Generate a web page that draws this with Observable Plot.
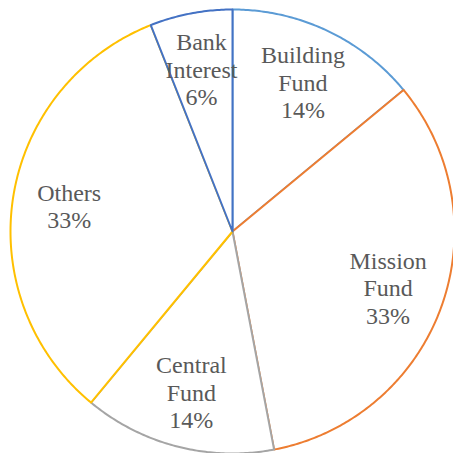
<!DOCTYPE html>
<html>
<head>
<meta charset="utf-8">
<script src="https://cdn.jsdelivr.net/npm/d3@7"></script>
<script src="https://cdn.jsdelivr.net/npm/@observablehq/plot@0.6"></script>
<style>
  html, body { margin: 0; padding: 0; background: #ffffff; }
  #chart svg { display: block; }
</style>
</head>
<body>
<div id="chart"></div>
<script>
const categories = ["Building Fund", "Mission Fund", "Central Fund", "Others", "Bank Interest"];
const labelLines = ["Building\nFund", "Mission\nFund", "Central\nFund", "Others", "Bank\nInterest"];
const values = [14, 33, 14, 33, 6];
const colors = ["#5B9BD5", "#ED7D31", "#A5A5A5", "#FFC000", "#4472C4"];

const W = 453, H = 453;
const R = 222;          // radius in scale units (1 unit = 1 px)
const labelR = 0.745 * R;

const total = d3.sum(values);
const pie = d3.pie().sort(null).value(d => d.value)(
  categories.map((c, i) => ({cat: c, value: values[i], label: labelLines[i]}))
);

const pts = [];
pie.forEach(s => {
  const cat = s.data.cat;
  pts.push({cat, x: 0, y: 0});
  const n = Math.max(2, Math.ceil((s.endAngle - s.startAngle) / 0.01));
  for (let k = 0; k <= n; k++) {
    const a = s.startAngle + (s.endAngle - s.startAngle) * k / n;
    pts.push({cat, x: R * Math.sin(a), y: R * Math.cos(a)});
  }
  pts.push({cat, x: 0, y: 0});
});

const labels = pie.map(s => {
  const a = (s.startAngle + s.endAngle) / 2;
  return {
    cat: s.data.cat,
    x: labelR * Math.sin(a),
    y: labelR * Math.cos(a),
    text: s.data.label + "\n" + Math.round(s.data.value / total * 100) + "%"
  };
});

const chart = Plot.plot({
  width: W,
  height: H,
  margin: 0,
  style: {background: "#ffffff", overflow: "visible"},
  x: {domain: [-232, 221], axis: null},
  y: {domain: [-222, 231], axis: null},
  color: {domain: categories, range: colors},
  marks: [
    Plot.line(pts, {
      x: "x", y: "y", z: "cat",
      stroke: "cat", fill: "#ffffff",
      strokeWidth: 2, curve: "linear", strokeLinejoin: "round"
    }),
    Plot.text(labels, {
      x: "x", y: "y", text: "text",
      fill: "#595959", fontSize: 24, fontFamily: "Liberation Serif",
      lineHeight: 1.15, textAnchor: "middle"
    })
  ]
});
document.getElementById("chart").appendChild(chart);
</script>
</body>
</html>
